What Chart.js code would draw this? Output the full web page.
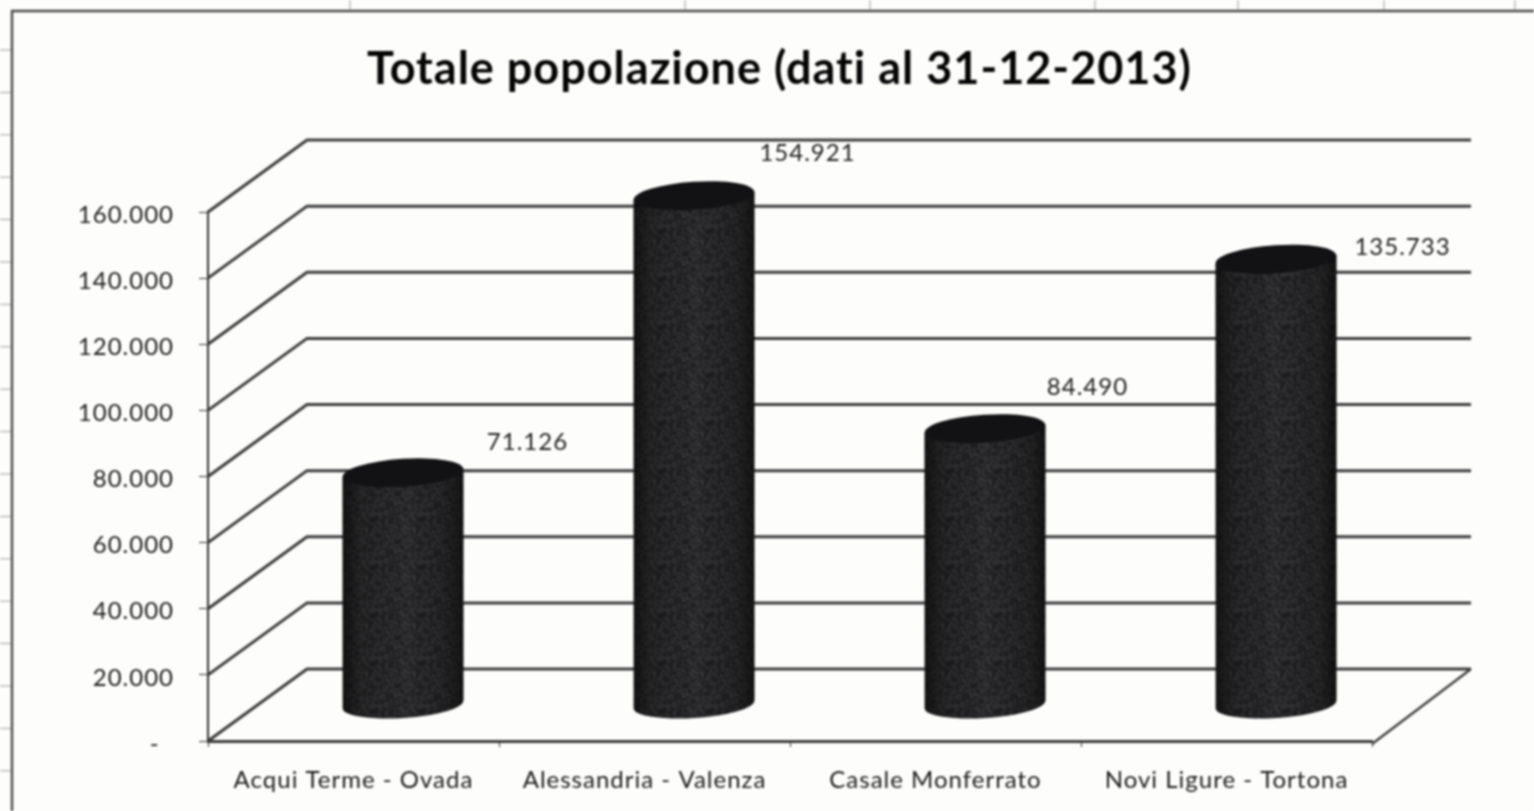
<!DOCTYPE html>
<html>
<head>
<meta charset="utf-8">
<style>
html,body{margin:0;padding:0;background:#fdfdfc;overflow:hidden}
canvas{display:block;filter:blur(0.85px)}
</style>
<script src="https://cdn.jsdelivr.net/npm/chart.js@4"></script>
</head>
<body>
<canvas id="c" width="1534" height="811" style="width:1534px;height:811px"></canvas>
<script>
const categories = ["Acqui Terme - Ovada", "Alessandria - Valenza", "Casale Monferrato", "Novi Ligure - Tortona"];
const seriesValues = [71126, 154921, 84490, 135733];
const chartTitle = "Totale popolazione (dati al 31-12-2013)";

const fmt = v => v === 0 ? "-  " : String(v).replace(/\B(?=(\d{3})+$)/g, ".");

const DEPTH_X = 99, DEPTH_Y = 72;
const labelShift = [[174, -64], [163, -76], [152, -74], [176, -45]];
const sheetTop = [350, 685, 870, 1095, 1238, 1384, 1515];

function grainPattern(ctx) {
  const s = 48, o = document.createElement("canvas");
  o.width = o.height = s;
  const g = o.getContext("2d");
  for (let y = 0; y < s; y += 2) for (let x = 0; x < s; x += 2) {
    const h = Math.abs(Math.sin(x * 12.9898 + y * 78.233) * 43758.5453) % 1;
    const c = Math.round(26 + h * 32);
    g.fillStyle = `rgb(${c},${c},${c + 2})`;
    g.fillRect(x, y, 2, 2);
  }
  return ctx.createPattern(o, "repeat");
}

const scene = {
  id: "scene",
  beforeDraw(chart) {
    const { ctx, width, height } = chart;
    ctx.letterSpacing = "1px";
    ctx.save();
    ctx.fillStyle = "#fdfdfc";
    ctx.fillRect(0, 0, width, height);
    ctx.strokeStyle = "#bdbdbd"; ctx.lineWidth = 1.5;
    ctx.beginPath();
    for (let y = 50; y < height; y += 42.4) { ctx.moveTo(0, y); ctx.lineTo(12, y); }
    sheetTop.forEach(x => { ctx.moveTo(x, 0); ctx.lineTo(x, 11); });
    ctx.stroke();
    ctx.strokeStyle = "#4a4a4a"; ctx.lineWidth = 2.4;
    ctx.beginPath();
    ctx.moveTo(12, height); ctx.lineTo(12, 11); ctx.lineTo(width, 11);
    ctx.stroke();
    ctx.restore();
  },
  beforeDatasetsDraw(chart) {
    const { ctx, chartArea: a, scales: { y } } = chart;
    ctx.save();
    ctx.strokeStyle = "#3c3c3c"; ctx.lineWidth = 3;
    y.ticks.forEach(t => {
      const py = y.getPixelForValue(t.value);
      ctx.beginPath();
      ctx.moveTo(a.left, py);
      ctx.lineTo(a.left + DEPTH_X, py - DEPTH_Y);
      ctx.lineTo(a.right + DEPTH_X, py - DEPTH_Y);
      ctx.stroke();
    });
    const b = y.getPixelForValue(0);
    ctx.lineWidth = 2.2;
    ctx.beginPath();
    ctx.moveTo(a.right, b + 3);
    ctx.lineTo(a.right + DEPTH_X, b - DEPTH_Y);
    ctx.stroke();
    ctx.restore();
  },
  afterDatasetsDraw(chart) {
    const { ctx } = chart;
    const grain = grainPattern(ctx);
    const tilt = -0.066;
    chart.getDatasetMeta(0).data.forEach((bar, i) => {
      const cx = bar.x + DEPTH_X / 2, top = bar.y - DEPTH_Y / 2 + 3, base = bar.base - DEPTH_Y / 2;
      const rx = bar.width / 2, ry = 13.5;
      const dy = rx * Math.sin(tilt);
      ctx.save();
      ctx.beginPath();
      ctx.moveTo(cx - rx, top - dy);
      ctx.lineTo(cx + rx, top + dy);
      ctx.lineTo(cx + rx, base + dy);
      ctx.ellipse(cx, base, rx, ry, tilt, 0, Math.PI);
      ctx.closePath();
      ctx.fillStyle = grain;
      ctx.fill();
      const sh = ctx.createLinearGradient(cx - rx, 0, cx + rx, 0);
      sh.addColorStop(0, "rgba(10,10,10,.75)");
      sh.addColorStop(0.16, "rgba(10,10,10,.25)");
      sh.addColorStop(0.5, "rgba(10,10,10,0)");
      sh.addColorStop(0.84, "rgba(10,10,10,.25)");
      sh.addColorStop(1, "rgba(10,10,10,.75)");
      ctx.fillStyle = sh;
      ctx.fill();
      ctx.beginPath();
      ctx.ellipse(cx, top, rx, ry + 0.5, tilt, 0, Math.PI * 2);
      ctx.fillStyle = "#121113";
      ctx.fill();
      ctx.font = "24px Lato";
      ctx.fillStyle = "#222";
      ctx.textAlign = "center";
      ctx.textBaseline = "middle";
      ctx.fillText(fmt(seriesValues[i]), bar.x + labelShift[i][0], bar.y + labelShift[i][1]);
      ctx.restore();
    });
  }
};

new Chart(document.getElementById("c"), {
  type: "bar",
  data: {
    labels: categories,
    datasets: [{
      label: "Totale popolazione",
      data: seriesValues,
      backgroundColor: "rgba(0,0,0,0)",
      borderWidth: 0,
      barPercentage: 0.415,
      categoryPercentage: 1
    }]
  },
  plugins: [scene],
  options: {
    responsive: false,
    devicePixelRatio: 1,
    animation: false,
    layout: { padding: { left: 25, right: 0, top: 0, bottom: 0 } },
    plugins: {
      legend: { display: false },
      tooltip: { enabled: false },
      title: {
        display: true,
        text: chartTitle,
        color: "#050505",
        font: { family: "Lato", size: 45, weight: "bold", lineHeight: 1.2 },
        padding: { top: 42, bottom: 116 }
      }
    },
    scales: {
      x: {
        grid: { drawOnChartArea: false, drawTicks: true, tickLength: 6, color: "#333", offset: true },
        border: { display: true, color: "#3c3c3c", width: 3 },
        ticks: { color: "#1c1c1c", font: { family: "Lato", size: 24 }, padding: 19, maxRotation: 0 },
        afterFit(s) { s.height = 70; }
      },
      y: {
        min: 0, max: 160000,
        afterFit(s) { s.width = 183; },
        grid: { drawOnChartArea: false, drawTicks: true, tickLength: 9, color: "#333" },
        border: { display: true, color: "#333", width: 2 },
        ticks: { stepSize: 20000, color: "#1c1c1c", font: { family: "Lato", size: 24 }, padding: 25, labelOffset: 3, callback: v => fmt(v) }
      },
      side: {
        position: "right",
        afterFit(s) { s.width = 162; },
        grid: { display: false },
        border: { display: false },
        ticks: { display: false }
      }
    }
  }
});
</script>
</body>
</html>
